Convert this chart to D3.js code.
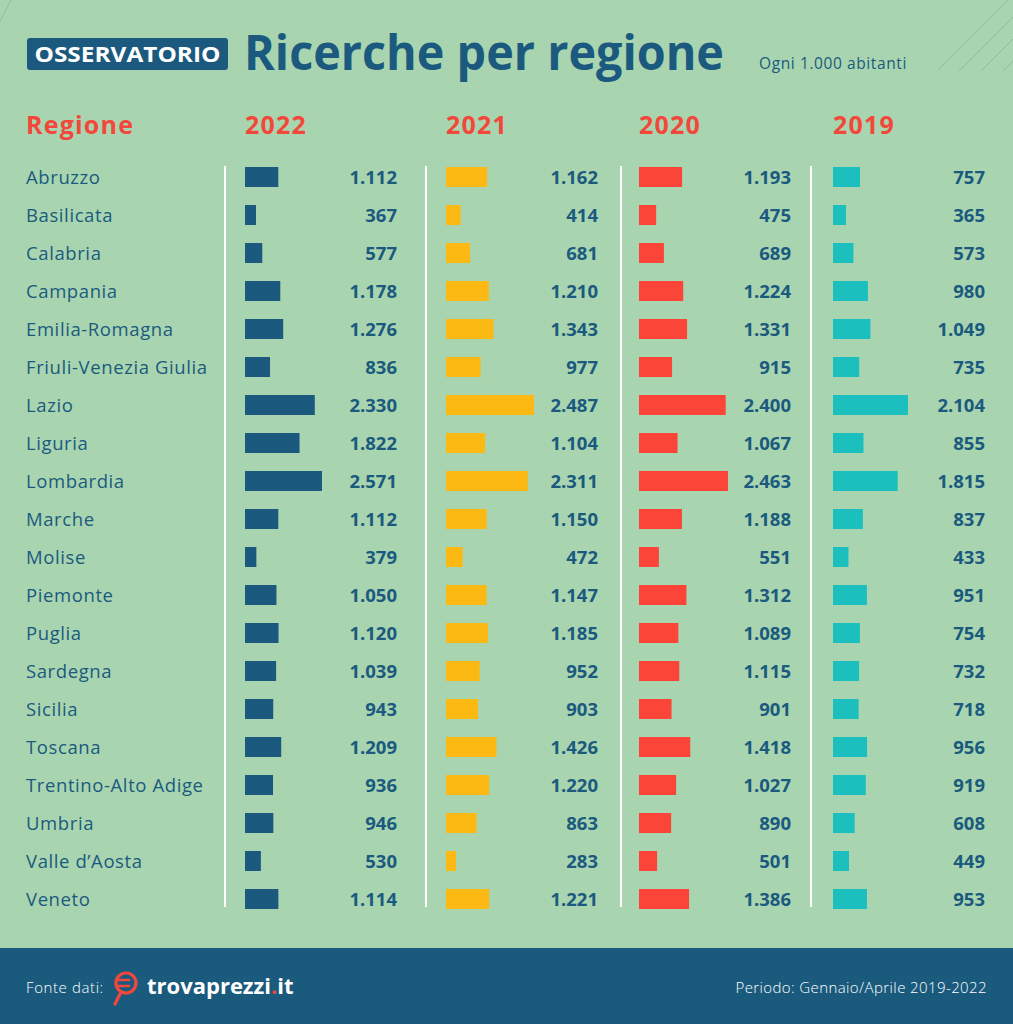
<!DOCTYPE html>
<html><head><meta charset="utf-8">
<script src="https://cdn.jsdelivr.net/npm/d3@7"></script>
<style>html,body{margin:0;padding:0;background:#a8d5b0;}svg{display:block;}</style>
</head><body>
<script>
const regions = ["Abruzzo","Basilicata","Calabria","Campania","Emilia-Romagna","Friuli-Venezia Giulia","Lazio","Liguria","Lombardia","Marche","Molise","Piemonte","Puglia","Sardegna","Sicilia","Toscana","Trentino-Alto Adige","Umbria","Valle d’Aosta","Veneto"];
const years = ["2022","2021","2020","2019"];
const v2022 = [1112,367,577,1178,1276,836,2330,1822,2571,1112,379,1050,1120,1039,943,1209,936,946,530,1114];
const v2021 = [1162,414,681,1210,1343,977,2487,1104,2311,1150,472,1147,1185,952,903,1426,1220,863,283,1221];
const v2020 = [1193,475,689,1224,1331,915,2400,1067,2463,1188,551,1312,1089,1115,901,1418,1027,890,501,1386];
const v2019 = [757,365,573,980,1049,735,2104,855,1815,837,433,951,754,732,718,956,919,608,449,953];
const series = [v2022, v2021, v2020, v2019];
const colors = ["#1b5a7e","#fdb913","#fc4539","#1bbfbd"];

const W = 1013, H = 1024;
const svg = d3.select("body").append("svg").attr("width", W).attr("height", H);
const FONT = "'Open Sans', 'Noto Sans', sans-serif";
const DARK = "#1b5a7e", RED = "#f2473a";

svg.append("rect").attr("width", W).attr("height", H).attr("fill", "#a8d5b0");

// decorative lines
const deco = [[0,21,11,0],[937,71,1008,0],[959,71,1013,17],[981,71,1013,39],[1003,71,1013,61]];
svg.selectAll("line.deco").data(deco).join("line")
  .attr("x1", d=>d[0]).attr("y1", d=>d[1]).attr("x2", d=>d[2]).attr("y2", d=>d[3])
  .attr("stroke", "#8cbf97").attr("stroke-width", 1);

// header
svg.append("rect").attr("x", 27).attr("y", 38).attr("width", 201).attr("height", 32).attr("rx", 3).attr("fill", DARK);
svg.append("text").attr("x", 127.5).attr("y", 62).attr("text-anchor", "middle")
  .attr("font-family", FONT).attr("font-weight", 700).attr("font-size", 21).attr("fill", "#fff")
  .attr("textLength", 186).attr("lengthAdjust", "spacingAndGlyphs").text("OSSERVATORIO");
svg.append("text").attr("x", 244).attr("y", 70)
  .attr("font-family", FONT).attr("font-weight", 700).attr("font-size", 48).attr("fill", DARK)
  .attr("textLength", 480).attr("lengthAdjust", "spacingAndGlyphs").text("Ricerche per regione");
svg.append("text").attr("x", 759).attr("y", 69)
  .attr("font-family", FONT).attr("font-size", 15.5).attr("letter-spacing", 0.6).attr("fill", DARK).text("Ogni 1.000 abitanti");

// layout
const row = d3.scaleBand().domain(regions).range([158, 158 + 38*regions.length]).paddingInner(0).paddingOuter(0);
const colX = [245, 446, 639, 833];
const valRight = [397, 598, 791, 985];
const sepX = [225, 426, 621, 811];
const maxW = [77, 88, 89, 75];

svg.append("text").attr("x", 26).attr("y", 134)
  .attr("font-family", FONT).attr("font-weight", 700).attr("font-size", 25).attr("letter-spacing", 1.2).attr("fill", RED).text("Regione");
svg.selectAll("text.year").data(years).join("text")
  .attr("x", (d,i)=>colX[i]).attr("y", 134)
  .attr("font-family", FONT).attr("font-weight", 700).attr("font-size", 25).attr("letter-spacing", 1.2).attr("fill", RED).text(d=>d);

// separators
svg.selectAll("line.sep").data(sepX).join("line")
  .attr("x1", d=>d).attr("x2", d=>d).attr("y1", 166).attr("y2", 907)
  .attr("stroke", "#ffffff").attr("stroke-width", 2);

// region labels
svg.selectAll("text.reg").data(regions).join("text")
  .attr("x", 26).attr("y", d=>row(d) + row.bandwidth()/2 + 6.5)
  .attr("font-family", FONT).attr("font-size", 18.5).attr("letter-spacing", 0.6).attr("fill", DARK).text(d=>d);

const fmt = d3.formatLocale({decimal: ",", thousands: ".", grouping: [3], currency: ["", "€"]}).format(",d");

series.forEach((vals, i) => {
  const x = d3.scaleLinear().domain([0, d3.max(vals)]).range([0, maxW[i]]);
  const g = svg.append("g");
  g.selectAll("rect").data(vals).join("rect")
    .attr("x", colX[i]).attr("y", (d,j)=>row(regions[j]) + row.bandwidth()/2 - 10)
    .attr("width", d=>x(d)).attr("height", 20).attr("fill", colors[i]);
  g.selectAll("text").data(vals).join("text")
    .attr("x", valRight[i]).attr("y", (d,j)=>row(regions[j]) + row.bandwidth()/2 + 6.5)
    .attr("text-anchor", "end")
    .attr("font-family", FONT).attr("font-weight", 700).attr("font-size", 18.5).attr("fill", DARK)
    .text(d=>fmt(d));
});

// footer
svg.append("rect").attr("x", 0).attr("y", 948).attr("width", W).attr("height", H-948).attr("fill", "#1a5a7d");
svg.append("text").attr("x", 26).attr("y", 993)
  .attr("font-family", FONT).attr("font-weight", 300).attr("font-size", 15).attr("letter-spacing", 0.6).attr("fill", "#fff").text("Fonte dati:");
// logo icon
const lg = svg.append("g").attr("fill", "none").attr("stroke", "#f2473a").attr("stroke-width", 3.2).attr("stroke-linecap", "round");
lg.append("circle").attr("cx", 126).attr("cy", 983).attr("r", 10);
lg.append("line").attr("x1", 120).attr("y1", 994).attr("x2", 115).attr("y2", 1004);
lg.append("line").attr("x1", 116).attr("y1", 980).attr("x2", 129).attr("y2", 980).attr("stroke-width", 2.6);
lg.append("line").attr("x1", 116).attr("y1", 986).attr("x2", 129).attr("y2", 986).attr("stroke-width", 2.6);
const brand = svg.append("text").attr("x", 147).attr("y", 994)
  .attr("font-family", FONT).attr("font-weight", 700).attr("font-size", 22).attr("fill", "#fff");
brand.append("tspan").text("trovaprezzi");
brand.append("tspan").attr("fill", "#f2473a").text(".");
brand.append("tspan").text("it");
svg.append("text").attr("x", 987).attr("y", 993).attr("text-anchor", "end")
  .attr("font-family", FONT).attr("font-weight", 300).attr("font-size", 15).attr("letter-spacing", 0.4).attr("fill", "#fff")
  .text("Periodo: Gennaio/Aprile 2019-2022");
</script>
</body></html>
